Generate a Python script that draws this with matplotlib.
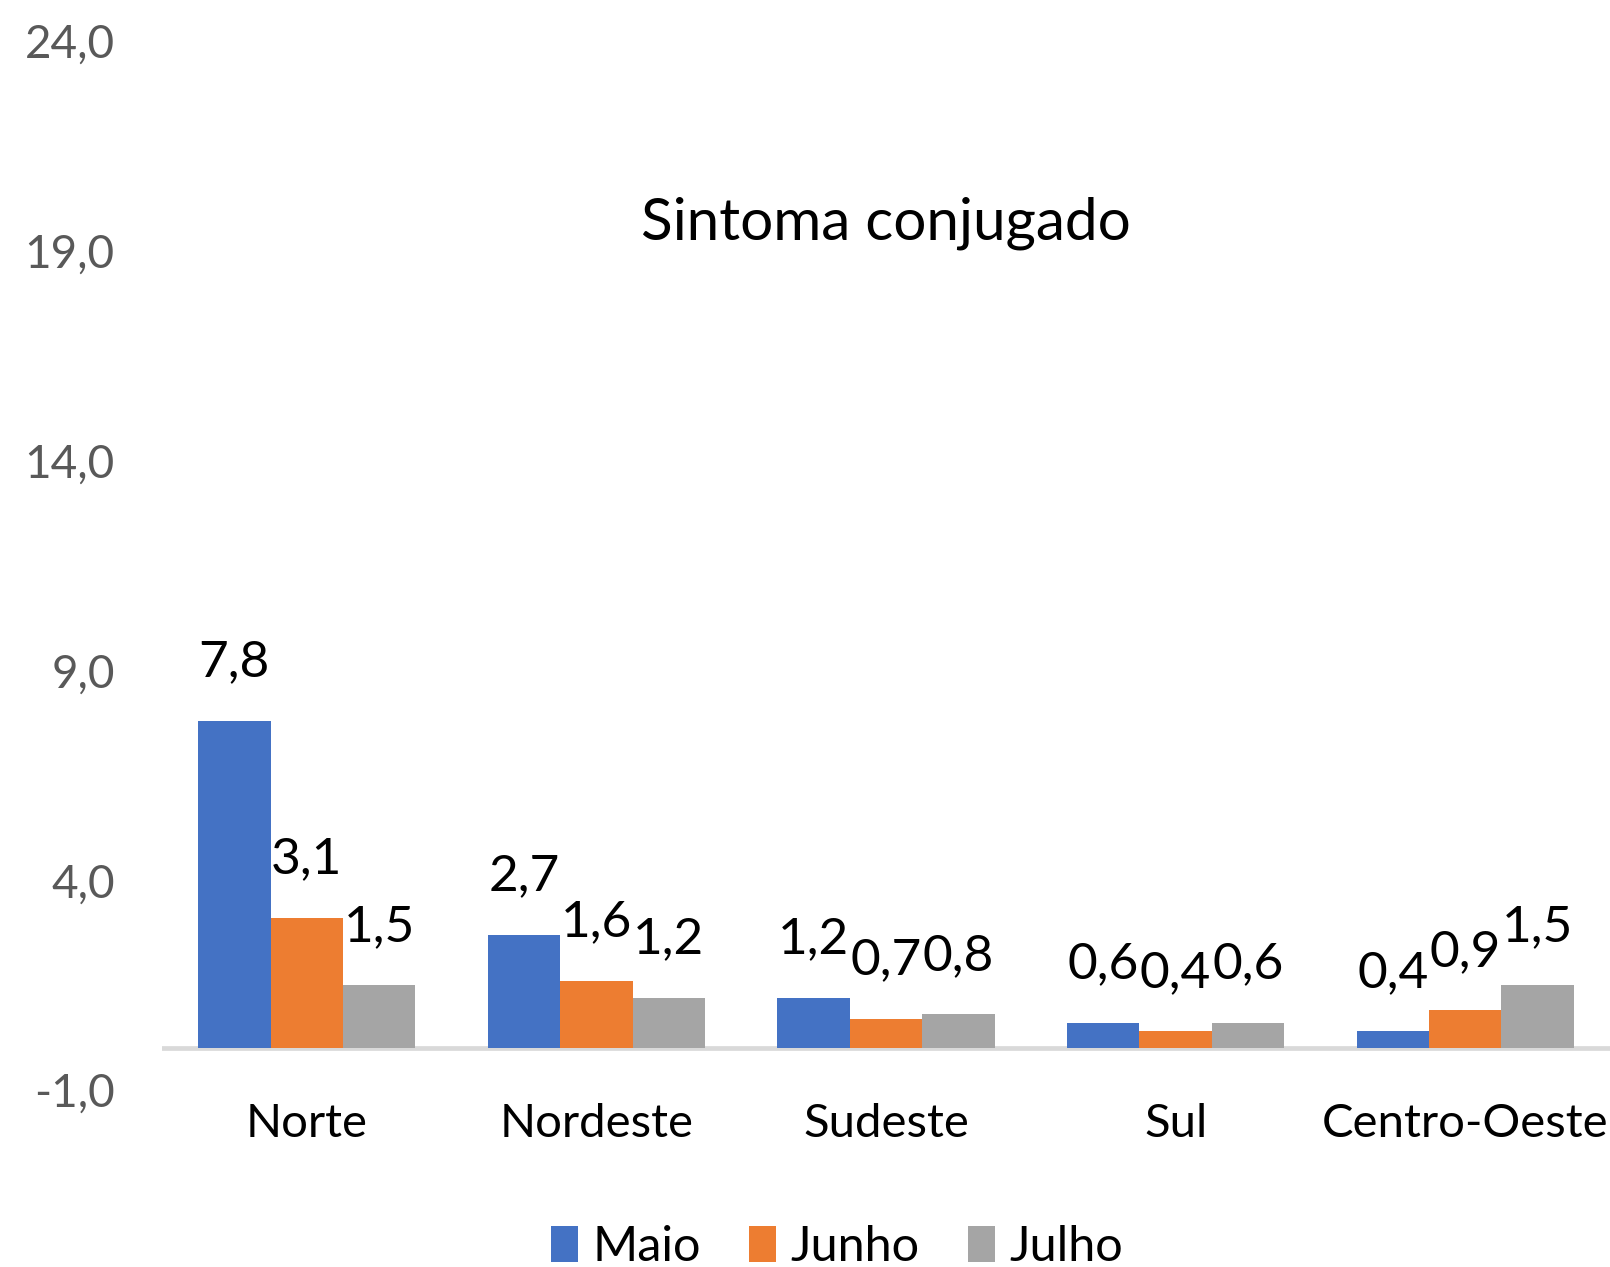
import matplotlib.pyplot as plt
import numpy as np

# -------- Data --------
regioes = ["Norte", "Nordeste", "Sudeste", "Sul", "Centro-Oeste"]
meses = ["Maio", "Junho", "Julho"]
maio = [7.8, 2.7, 1.2, 0.6, 0.4]
junho = [3.1, 1.6, 0.7, 0.4, 0.9]
julho = [1.5, 1.2, 0.8, 0.6, 1.5]
cores = ["#4472C4", "#ED7D31", "#A5A5A5"]
yticks = [-1, 4, 9, 14, 19, 24]

plt.rcParams['font.family'] = ['Lato', 'DejaVu Sans']

fig = plt.figure(figsize=(16.1, 12.67), dpi=100)
ax = fig.add_axes([0.1006, 0.1397, 0.8994, 0.8279])

x = np.arange(len(regioes))
w = 0.25
for i, (serie, nome) in enumerate(zip([maio, junho, julho], meses)):
    bars = ax.bar(x + (i - 1) * w, serie, width=w, color=cores[i], label=nome, zorder=2)
    for b, v in zip(bars, serie):
        ax.annotate(f"{v:.1f}".replace(".", ","),
                    (b.get_x() + b.get_width() / 2, v),
                    xytext=(0, 32), textcoords="offset points",
                    ha="center", va="baseline", fontsize=37, color="black")

ax.axhline(0, color="#D9D9D9", lw=3.4, zorder=1)

ax.set_xlim(-0.5, len(regioes) - 0.5)
ax.set_ylim(-1, 24)
ax.set_yticks(yticks)
ax.set_yticklabels([f"{t:.1f}".replace(".", ",") for t in yticks])
ax.set_xticks(x)
ax.set_xticklabels(regioes)
ax.tick_params(axis="y", length=0, pad=34, labelsize=33, labelcolor="#595959")
ax.tick_params(axis="x", length=0, pad=9, labelsize=34, labelcolor="black")
for s in ax.spines.values():
    s.set_visible(False)

ax.text(0.5, 0.826, "Sintoma conjugado", transform=ax.transAxes,
        ha="center", va="center", fontsize=42, color="black")

fig.legend(loc="lower center", bbox_to_anchor=(0.52, -0.036), ncol=3, frameon=False,
           fontsize=35, handlelength=0.55, handleheight=0.75, handletextpad=0.3,
           columnspacing=1.0)

fig.savefig("out.png", dpi=100)
